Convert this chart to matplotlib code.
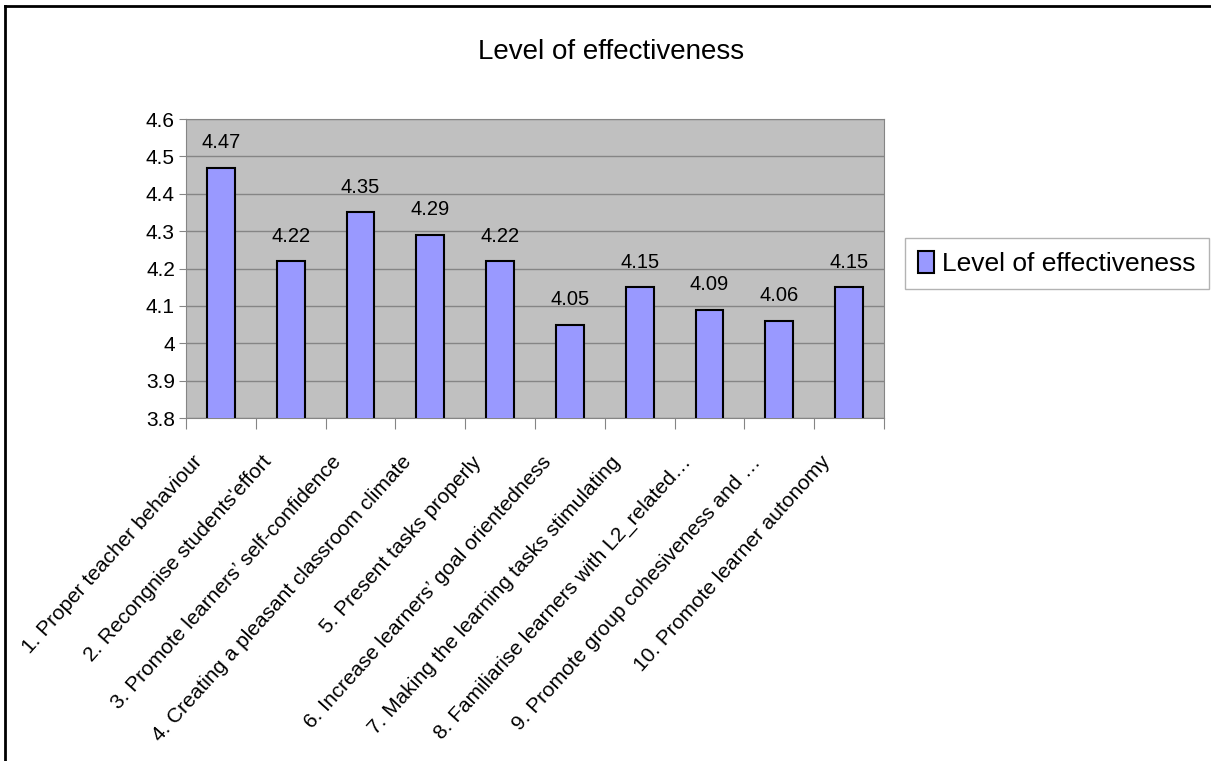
import matplotlib
matplotlib.use('Agg')
import matplotlib.pyplot as plt
from matplotlib.lines import Line2D

categories = [
    '1. Proper teacher behaviour',
    "2. Recongnise students'effort",
    '3. Promote learners\u2019 self-confidence',
    '4. Creating a pleasant classroom climate',
    '5. Present tasks properly',
    '6. Increase learners\u2019 goal orientedness',
    '7. Making the learning tasks stimulating',
    '8. Familiarise learners with L2_related\u2026',
    '9. Promote group cohesiveness and \u2026',
    '10. Promote learner autonomy',
]
scores = [4.47, 4.22, 4.35, 4.29, 4.22, 4.05, 4.15, 4.09, 4.06, 4.15]
series_name = 'Level of effectiveness'
y_ticks = [3.8, 3.9, 4.0, 4.1, 4.2, 4.3, 4.4, 4.5, 4.6]
y_tick_labels = ['3.8', '3.9', '4', '4.1', '4.2', '4.3', '4.4', '4.5', '4.6']

plt.rcParams['font.family'] = ['Liberation Sans', 'DejaVu Sans']

fig = plt.figure(figsize=(12.11, 7.61), dpi=100)
ax = fig.add_axes([0.1536, 0.4507, 0.5764, 0.3929])

x = list(range(len(categories)))
ax.bar(x, scores, width=0.40, color='#9999ff', edgecolor='black',
       linewidth=1.5, zorder=3, label=series_name)

for xi, v in zip(x, scores):
    ax.annotate(f'{v:.2f}', (xi, v), xytext=(0, 14), textcoords='offset points',
                ha='center', va='baseline', fontsize=14.5)

ax.set_xlim(-0.5, len(categories) - 0.5)
ax.set_ylim(3.8, 4.6)
ax.set_facecolor('#c0c0c0')
ax.set_yticks(y_ticks)
ax.set_yticklabels(y_tick_labels, fontsize=15)
ax.yaxis.grid(True, color='#858585', linewidth=1, zorder=0)
for s in ax.spines.values():
    s.set_color('#858585')
ax.tick_params(axis='y', length=5, color='#858585', pad=3)

# ticks sit between categories, labels hang off the category centres
ax.set_xticks([i - 0.5 for i in range(len(categories) + 1)])
ax.set_xticklabels([])
ax.tick_params(axis='x', length=8, color='#858585')
for xi, name in zip(x, categories):
    ax.annotate(name, xy=(xi, 0), xycoords=('data', 'axes fraction'),
                xytext=(-13, -32), textcoords='offset points',
                rotation=48, rotation_mode='anchor', ha='right',
                va='baseline', fontsize=15, annotation_clip=False)

fig.text(0.505, 0.932, series_name, ha='center', va='center', fontsize=20)

leg = ax.legend(loc='center left', bbox_to_anchor=(0.7475, 0.6535),
                bbox_transform=fig.transFigure, fontsize=19, frameon=True,
                fancybox=False, handlelength=0.6, handleheight=0.9,
                handletextpad=0.3, borderpad=0.5, borderaxespad=0)
leg.get_frame().set_edgecolor('#a0a0a0')
leg.get_frame().set_linewidth(1)

# outer border of the chart area
fig.add_artist(Line2D([5 / 1211, 1], [1 - 6 / 761, 1 - 6 / 761],
                      color='black', linewidth=2, transform=fig.transFigure))
fig.add_artist(Line2D([5 / 1211, 5 / 1211], [0, 1 - 6 / 761],
                      color='black', linewidth=2, transform=fig.transFigure))

plt.savefig('out.png', dpi=100)
